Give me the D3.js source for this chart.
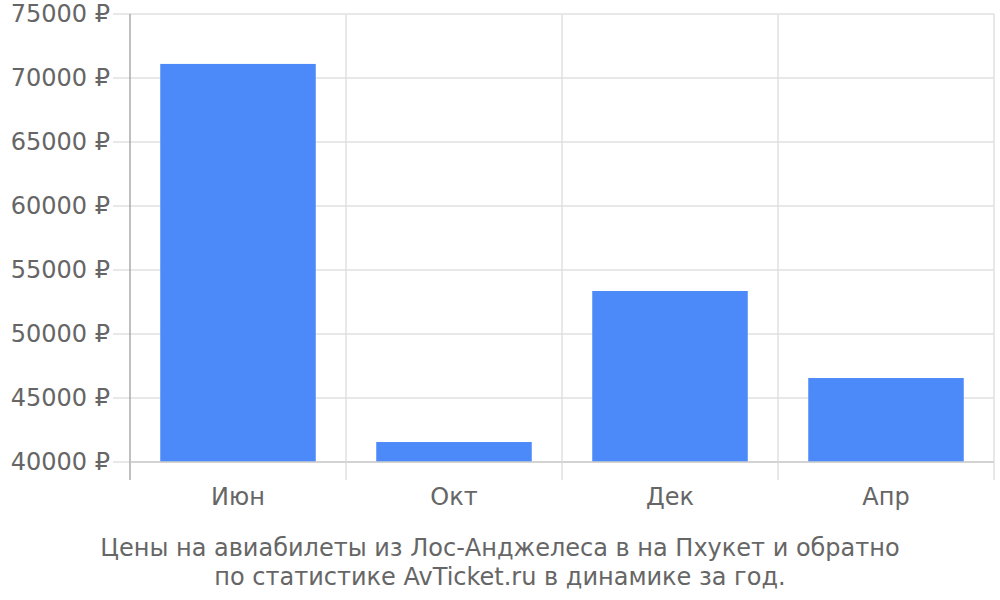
<!DOCTYPE html>
<html><head><meta charset="utf-8">
<script src="https://cdn.jsdelivr.net/npm/d3@7/dist/d3.min.js"></script>
<style>body{margin:0;background:#fff}text{font-family:"DejaVu Sans",sans-serif;fill:#666}</style>
</head><body><svg id="c" width="1000" height="600"></svg>
<script>
const categories = ["Июн", "Окт", "Дек", "Апр"];
const values = [71100, 41560, 53360, 46560];
const yTicks = [40000, 45000, 50000, 55000, 60000, 65000, 70000, 75000];
const titleLines = ["Цены на авиабилеты из Лос-Анджелеса в на Пхукет и обратно", "по статистике AvTicket.ru в динамике за год."];

const svg = d3.select("#c");
const L = 130, R = 994, T = 14, B = 462;
const x = d3.scaleBand().domain(categories).range([L, R]).paddingInner(0.28).paddingOuter(0.14);
const y = d3.scaleLinear().domain([40000, 75000]).range([B, T]);
const xb = d3.scaleBand().domain(categories).range([L, R]);

// horizontal grid
svg.append("g").selectAll("line").data(yTicks).join("line")
  .attr("x1", L - 17).attr("x2", R).attr("y1", d => y(d)).attr("y2", d => y(d))
  .attr("stroke", "#e0e0e0").attr("stroke-width", 1.5);
// vertical grid
const vx = categories.map(c => xb(c)).concat([R]);
svg.append("g").selectAll("line").data(vx.slice(1)).join("line")
  .attr("x1", d => d).attr("x2", d => d).attr("y1", T).attr("y2", B + 18)
  .attr("stroke", "#e0e0e0").attr("stroke-width", 1.5);

// bars
svg.append("g").selectAll("rect").data(values).join("rect")
  .attr("x", (d, i) => x(categories[i])).attr("width", x.bandwidth())
  .attr("y", d => y(d)).attr("height", d => B - y(d))
  .attr("fill", "#4d8af9");

// axes lines
svg.append("line").attr("x1", L).attr("x2", L).attr("y1", T).attr("y2", B + 18)
  .attr("stroke", "#aaa").attr("stroke-width", 1.5);
svg.append("line").attr("x1", L).attr("x2", R).attr("y1", B).attr("y2", B)
  .attr("stroke", "#ccc").attr("stroke-width", 1.5);

// y labels
svg.append("g").selectAll("text").data(yTicks).join("text")
  .attr("x", 110).attr("y", d => y(d)).attr("dy", "0.35em")
  .attr("text-anchor", "end").attr("font-size", 24)
  .text(d => d + " ₽");
// x labels
svg.append("g").selectAll("text").data(categories).join("text")
  .attr("x", d => xb(d) + xb.bandwidth() / 2).attr("y", 505)
  .attr("text-anchor", "middle").attr("font-size", 24).text(d => d);
// title
svg.append("g").selectAll("text").data(titleLines).join("text")
  .attr("x", 500).attr("y", (d, i) => 556 + i * 29)
  .attr("text-anchor", "middle").attr("font-size", 24).text(d => d);
</script></body></html>
